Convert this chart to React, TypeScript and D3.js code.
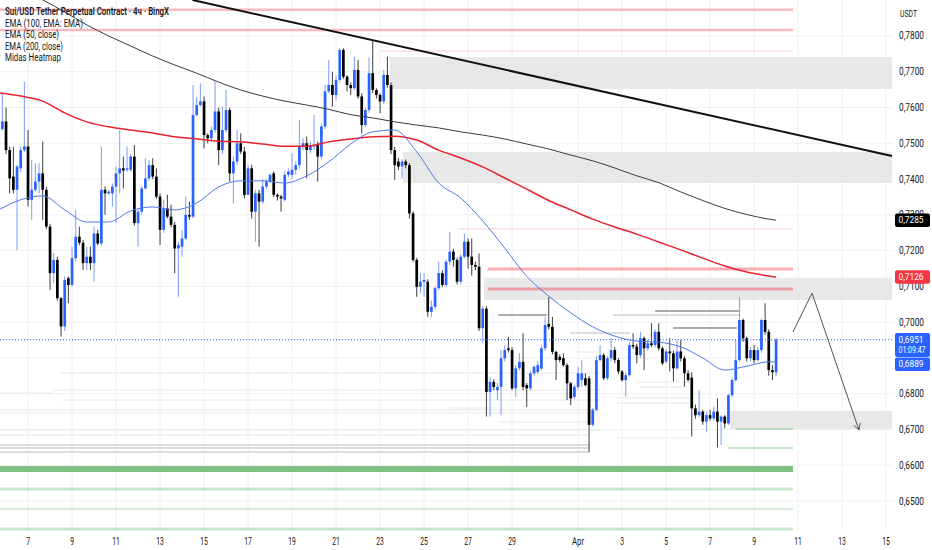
import React, { useEffect, useRef } from 'react';
import * as d3 from 'd3';

// 4h candles, the first one opens 2025-03-05 16:00 UTC
const opens = [
  0.7510, 0.7540, 0.7561, 0.7481, 0.7407, 0.7370, 0.7430, 0.7481, 0.7491, 0.7342,
  0.7370, 0.7393, 0.7416, 0.7370, 0.7267, 0.7137, 0.7174, 0.7067, 0.6988, 0.7123,
  0.7104, 0.7179, 0.7239, 0.7222, 0.7165, 0.7183, 0.7165, 0.7248, 0.7220, 0.7370,
  0.7360, 0.7360, 0.7379, 0.7416, 0.7430, 0.7426, 0.7426, 0.7463, 0.7277, 0.7309,
  0.7374, 0.7402, 0.7439, 0.7407, 0.7351, 0.7258, 0.7318, 0.7295, 0.7272, 0.7206,
  0.7211, 0.7234, 0.7300, 0.7295, 0.7579, 0.7607, 0.7617, 0.7523, 0.7514, 0.7537,
  0.7589, 0.7481, 0.7537, 0.7593, 0.7416, 0.7449, 0.7500, 0.7477, 0.7356, 0.7430,
  0.7309, 0.7360, 0.7337, 0.7379, 0.7393, 0.7416, 0.7356, 0.7351, 0.7342, 0.7412,
  0.7412, 0.7426, 0.7439, 0.7491, 0.7500, 0.7481, 0.7491, 0.7495, 0.7463, 0.7547,
  0.7645, 0.7663, 0.7635, 0.7677, 0.7761, 0.7686, 0.7663, 0.7654, 0.7705, 0.7631,
  0.7551, 0.7593, 0.7696, 0.7649, 0.7635, 0.7617, 0.7691, 0.7663, 0.7481, 0.7449,
  0.7435, 0.7449, 0.7439, 0.7304, 0.7174, 0.7099, 0.7113, 0.7113, 0.7029, 0.7043,
  0.7095, 0.7137, 0.7104, 0.7169, 0.7197, 0.7174, 0.7113, 0.7183, 0.7225, 0.7183,
  0.7160, 0.7155, 0.6983, 0.7038, 0.6805, 0.6833, 0.6810, 0.6819, 0.6899, 0.6927,
  0.6922, 0.6815, 0.6871, 0.6889, 0.6824, 0.6815, 0.6857, 0.6861, 0.6870, 0.6927,
  0.6995, 0.6987, 0.6917, 0.6903, 0.6899, 0.6880, 0.6829, 0.6791, 0.6819, 0.6838,
  0.6843, 0.6843, 0.6713, 0.6755, 0.6894, 0.6908, 0.6843, 0.6899, 0.6922, 0.6894,
  0.6862, 0.6838, 0.6852, 0.6936, 0.6932, 0.6908, 0.6955, 0.6927, 0.6941, 0.6936,
  0.6973, 0.6927, 0.6890, 0.6918, 0.6913, 0.6871, 0.6918, 0.6899, 0.6857, 0.6845,
  0.6759, 0.6740, 0.6750, 0.6722, 0.6740, 0.6731, 0.6750, 0.6722, 0.6736, 0.6717,
  0.6796, 0.6838, 0.6894, 0.7006, 0.6955, 0.6899, 0.6922, 0.6894, 0.6922, 0.7006,
  0.6973, 0.6866, 0.6860,
];
const highs = [
  0.7560, 0.7640, 0.7600, 0.7490, 0.7490, 0.7440, 0.7491, 0.7672, 0.7537, 0.7453,
  0.7444, 0.7444, 0.7505, 0.7379, 0.7275, 0.7193, 0.7183, 0.7070, 0.7128, 0.7128,
  0.7211, 0.7314, 0.7267, 0.7230, 0.7211, 0.7211, 0.7267, 0.7258, 0.7491, 0.7379,
  0.7370, 0.7388, 0.7435, 0.7537, 0.7463, 0.7491, 0.7470, 0.7495, 0.7315, 0.7380,
  0.7458, 0.7453, 0.7458, 0.7430, 0.7360, 0.7342, 0.7356, 0.7328, 0.7280, 0.7225,
  0.7258, 0.7351, 0.7337, 0.7663, 0.7630, 0.7668, 0.7631, 0.7528, 0.7547, 0.7673,
  0.7600, 0.7603, 0.7649, 0.7600, 0.7463, 0.7537, 0.7528, 0.7490, 0.7440, 0.7440,
  0.7370, 0.7370, 0.7400, 0.7400, 0.7416, 0.7421, 0.7360, 0.7356, 0.7421, 0.7430,
  0.7472, 0.7449, 0.7565, 0.7514, 0.7519, 0.7505, 0.7579, 0.7505, 0.7555, 0.7663,
  0.7733, 0.7700, 0.7690, 0.7766, 0.7766, 0.7691, 0.7670, 0.7742, 0.7733, 0.7640,
  0.7600, 0.7740, 0.7786, 0.7654, 0.7640, 0.7705, 0.7742, 0.7670, 0.7490, 0.7460,
  0.7455, 0.7455, 0.7445, 0.7310, 0.7180, 0.7137, 0.7137, 0.7120, 0.7060, 0.7100,
  0.7169, 0.7145, 0.7175, 0.7253, 0.7205, 0.7180, 0.7190, 0.7248, 0.7234, 0.7234,
  0.7169, 0.7192, 0.7045, 0.7045, 0.6847, 0.6840, 0.6830, 0.6922, 0.6935, 0.6959,
  0.6930, 0.6880, 0.6913, 0.6969, 0.6830, 0.6865, 0.6880, 0.6890, 0.6935, 0.7015,
  0.7070, 0.7015, 0.6920, 0.6910, 0.6913, 0.6885, 0.6833, 0.6825, 0.6875, 0.6894,
  0.6857, 0.6850, 0.6760, 0.6905, 0.6936, 0.6913, 0.6905, 0.6955, 0.6930, 0.6900,
  0.6866, 0.6860, 0.6945, 0.6969, 0.6940, 0.6973, 0.6960, 0.6950, 0.6997, 0.6980,
  0.6997, 0.6932, 0.6925, 0.6955, 0.6920, 0.6950, 0.6950, 0.6905, 0.6866, 0.6860,
  0.6770, 0.6810, 0.6755, 0.6750, 0.6755, 0.6764, 0.6787, 0.6740, 0.6740, 0.6800,
  0.6845, 0.6950, 0.7071, 0.7010, 0.6960, 0.6930, 0.6936, 0.6930, 0.7010, 0.7053,
  0.6980, 0.6880, 0.6955,
];
const lows = [
  0.7500, 0.7535, 0.7470, 0.7360, 0.7360, 0.7202, 0.7420, 0.7475, 0.7323, 0.7286,
  0.7365, 0.7360, 0.7286, 0.7260, 0.7090, 0.7109, 0.7060, 0.6960, 0.6975, 0.7053,
  0.7100, 0.7170, 0.7215, 0.7146, 0.7146, 0.7146, 0.7113, 0.7215, 0.7215, 0.7300,
  0.7355, 0.7323, 0.7277, 0.7360, 0.7374, 0.7420, 0.7420, 0.7270, 0.7211, 0.7300,
  0.7370, 0.7395, 0.7400, 0.7345, 0.7216, 0.7250, 0.7290, 0.7265, 0.7137, 0.7071,
  0.7183, 0.7230, 0.7286, 0.7290, 0.7575, 0.7603, 0.7486, 0.7500, 0.7505, 0.7530,
  0.7439, 0.7470, 0.7530, 0.7393, 0.7332, 0.7440, 0.7470, 0.7346, 0.7356, 0.7290,
  0.7225, 0.7211, 0.7330, 0.7372, 0.7388, 0.7350, 0.7340, 0.7309, 0.7337, 0.7405,
  0.7400, 0.7412, 0.7430, 0.7481, 0.7402, 0.7472, 0.7481, 0.7393, 0.7455, 0.7540,
  0.7640, 0.7603, 0.7620, 0.7670, 0.7680, 0.7645, 0.7635, 0.7649, 0.7625, 0.7528,
  0.7545, 0.7585, 0.7640, 0.7625, 0.7584, 0.7610, 0.7655, 0.7470, 0.7398, 0.7425,
  0.7402, 0.7430, 0.7290, 0.7168, 0.7071, 0.7080, 0.7071, 0.7015, 0.7015, 0.7035,
  0.7090, 0.7098, 0.7098, 0.7160, 0.7155, 0.7105, 0.7105, 0.7178, 0.7150, 0.7130,
  0.7145, 0.6975, 0.6941, 0.6736, 0.6736, 0.6810, 0.6782, 0.6740, 0.6890, 0.6915,
  0.6810, 0.6791, 0.6865, 0.6810, 0.6763, 0.6810, 0.6850, 0.6855, 0.6865, 0.6920,
  0.6980, 0.6910, 0.6838, 0.6888, 0.6875, 0.6782, 0.6768, 0.6785, 0.6812, 0.6819,
  0.6820, 0.6637, 0.6708, 0.6750, 0.6890, 0.6838, 0.6838, 0.6890, 0.6885, 0.6855,
  0.6834, 0.6792, 0.6848, 0.6925, 0.6885, 0.6900, 0.6866, 0.6920, 0.6930, 0.6930,
  0.6920, 0.6880, 0.6885, 0.6862, 0.6834, 0.6866, 0.6890, 0.6820, 0.6834, 0.6680,
  0.6730, 0.6735, 0.6713, 0.6694, 0.6725, 0.6725, 0.6650, 0.6657, 0.6703, 0.6712,
  0.6790, 0.6834, 0.6890, 0.6945, 0.6890, 0.6890, 0.6885, 0.6890, 0.6915, 0.6965,
  0.6850, 0.6838, 0.6850,
];
const closes = [
  0.7540, 0.7561, 0.7481, 0.7402, 0.7370, 0.7435, 0.7481, 0.7491, 0.7342, 0.7370,
  0.7393, 0.7416, 0.7370, 0.7267, 0.7137, 0.7174, 0.7067, 0.6988, 0.7118, 0.7104,
  0.7179, 0.7239, 0.7222, 0.7165, 0.7183, 0.7165, 0.7248, 0.7220, 0.7370, 0.7360,
  0.7365, 0.7379, 0.7416, 0.7430, 0.7424, 0.7430, 0.7463, 0.7277, 0.7309, 0.7374,
  0.7402, 0.7439, 0.7407, 0.7351, 0.7258, 0.7318, 0.7295, 0.7272, 0.7206, 0.7216,
  0.7234, 0.7300, 0.7295, 0.7579, 0.7607, 0.7617, 0.7523, 0.7514, 0.7537, 0.7589,
  0.7481, 0.7537, 0.7593, 0.7416, 0.7449, 0.7500, 0.7477, 0.7356, 0.7430, 0.7309,
  0.7360, 0.7337, 0.7379, 0.7393, 0.7412, 0.7356, 0.7351, 0.7346, 0.7412, 0.7421,
  0.7426, 0.7439, 0.7491, 0.7500, 0.7481, 0.7495, 0.7495, 0.7463, 0.7547, 0.7645,
  0.7663, 0.7635, 0.7677, 0.7761, 0.7686, 0.7663, 0.7654, 0.7705, 0.7631, 0.7551,
  0.7593, 0.7696, 0.7649, 0.7635, 0.7617, 0.7691, 0.7663, 0.7481, 0.7439, 0.7435,
  0.7449, 0.7439, 0.7304, 0.7174, 0.7099, 0.7113, 0.7118, 0.7029, 0.7043, 0.7095,
  0.7137, 0.7104, 0.7169, 0.7197, 0.7174, 0.7113, 0.7183, 0.7225, 0.7183, 0.7160,
  0.7155, 0.6983, 0.7038, 0.6805, 0.6833, 0.6819, 0.6819, 0.6899, 0.6922, 0.6922,
  0.6815, 0.6871, 0.6889, 0.6819, 0.6815, 0.6857, 0.6875, 0.6880, 0.6927, 0.6992,
  0.6987, 0.6917, 0.6894, 0.6894, 0.6880, 0.6829, 0.6787, 0.6819, 0.6857, 0.6857,
  0.6824, 0.6713, 0.6755, 0.6894, 0.6908, 0.6843, 0.6899, 0.6922, 0.6894, 0.6862,
  0.6838, 0.6852, 0.6936, 0.6932, 0.6908, 0.6955, 0.6927, 0.6941, 0.6936, 0.6973,
  0.6927, 0.6885, 0.6918, 0.6913, 0.6871, 0.6918, 0.6899, 0.6857, 0.6838, 0.6759,
  0.6740, 0.6750, 0.6722, 0.6740, 0.6731, 0.6750, 0.6722, 0.6736, 0.6717, 0.6796,
  0.6838, 0.6894, 0.7006, 0.6955, 0.6899, 0.6922, 0.6894, 0.6922, 0.7006, 0.6973,
  0.6866, 0.6860, 0.6951,
];

const emaIndex = [
  0, 6, 12, 18, 24, 30, 36, 42, 48, 54, 60, 66, 72, 78, 84, 90, 96, 102, 108,
  114, 120, 126, 132, 138, 144, 150, 156, 162, 168, 174, 180, 186, 192, 198, 204, 210, 212,
];
const ema50 = [
  0.7314, 0.7342, 0.7353, 0.7314, 0.7280, 0.7280, 0.7311, 0.7322, 0.7314, 0.7333,
  0.7378, 0.7395, 0.7395, 0.7389, 0.7409, 0.7448, 0.7498, 0.7532, 0.7537, 0.7476,
  0.7389, 0.7347, 0.7283, 0.7207, 0.7128, 0.7073, 0.7026, 0.6987, 0.6961, 0.6947,
  0.6944, 0.6931, 0.6900, 0.6866, 0.6877, 0.6889, 0.6889,
];
const ema100 = [
  0.7962, 0.7928, 0.7901, 0.7867, 0.7831, 0.7800, 0.7772, 0.7744, 0.7719, 0.7696,
  0.7671, 0.7649, 0.7632, 0.7618, 0.7607, 0.7595, 0.7580, 0.7571, 0.7560, 0.7551,
  0.7543, 0.7532, 0.7523, 0.7512, 0.7498, 0.7484, 0.7467, 0.7451, 0.7431, 0.7409,
  0.7390, 0.7364, 0.7340, 0.7318, 0.7301, 0.7288, 0.7285,
];
const ema200 = [
  0.7641, 0.7632, 0.7618, 0.7585, 0.7560, 0.7546, 0.7537, 0.7529, 0.7518, 0.7512,
  0.7506, 0.7504, 0.7498, 0.7492, 0.7492, 0.7504, 0.7512, 0.7518, 0.7520, 0.7509,
  0.7481, 0.7459, 0.7434, 0.7403, 0.7372, 0.7340, 0.7314, 0.7288, 0.7266, 0.7246,
  0.7224, 0.7202, 0.7179, 0.7157, 0.7140, 0.7129, 0.7126,
];

const priceTicks = [0.78, 0.77, 0.76, 0.75, 0.74, 0.73, 0.72, 0.71, 0.70, 0.69, 0.68, 0.67, 0.66, 0.65];
// 0,6900 sits under the last-price tags, so no label for it
const priceLabels = [0.78, 0.77, 0.76, 0.75, 0.74, 0.73, 0.72, 0.71, 0.70, 0.68, 0.67, 0.66, 0.65];
const dateTicks = [
  '2025-03-07', '2025-03-09', '2025-03-11', '2025-03-13', '2025-03-15', '2025-03-17', '2025-03-19',
  '2025-03-21', '2025-03-23', '2025-03-25', '2025-03-27', '2025-03-29', '2025-04-01', '2025-04-03',
  '2025-04-05', '2025-04-07', '2025-04-09', '2025-04-11', '2025-04-13', '2025-04-15',
];
const dateLabels = ['7', '9', '11', '13', '15', '17', '19', '21', '23', '25', '27', '29', 'Apr', '3', '5', '7', '9', '11', '13', '15'];

const legendLines = [
  'Sui/USD Tether Perpetual Contract · 4ч · BingX',
  'EMA (100, EMA: EMA)',
  'EMA (50, close)',
  'EMA (200, close)',
  'Midas Heatmap',
];

// supply / demand boxes: top price, bottom price, first candle index (run to the right edge)
const zoneTop = [0.7741, 0.7476, 0.7124, 0.6752];
const zoneBottom = [0.7652, 0.7389, 0.7062, 0.6701];
const zoneFrom = [106.7, 110.3, 132.3, 199.4];

// heatmap levels: price, from candle, to candle, kind
const levels = [
  { price: 0.78735, from: 0, to: 216.6, kind: 'pink' },
  { price: 0.78168, from: 0, to: 216.6, kind: 'pink' },
  { price: 0.77581, from: 104.3, to: 216.6, kind: 'pinkThin' },
  { price: 0.72604, from: 125.2, to: 216.6, kind: 'pinkThin' },
  { price: 0.71486, from: 133.4, to: 216.6, kind: 'red' },
  { price: 0.70927, from: 133.4, to: 216.6, kind: 'red' },
  { price: 0.67013, from: 201.0, to: 216.6, kind: 'greenThin' },
  { price: 0.66482, from: 198.9, to: 216.6, kind: 'greenThin' },
  { price: 0.65895, from: 0, to: 216.6, kind: 'greenThick' },
  { price: 0.65336, from: 0, to: 216.6, kind: 'greenMid' },
  { price: 0.64777, from: 0, to: 216.6, kind: 'greenLight' },
  { price: 0.64218, from: 0, to: 216.6, kind: 'greenMid' },
];

// faint volume-profile lines of the heatmap: price, from candle, to candle, shade 1..3
const heatPrice = [
  0.68578, 0.68103, 0.68019, 0.67824, 0.67544, 0.67461, 0.67209, 0.66985, 0.66846,
  0.66566, 0.66483, 0.66371, 0.70703, 0.70200, 0.70312, 0.70200, 0.69837, 0.69697,
  0.69166, 0.68327, 0.68187, 0.67880, 0.67740, 0.66762, 0.67600,
];
const heatFrom = [
  16.7, 14.8, 0, 17.5, 0, 0, 136.7, 0, 0, 0, 0, 0, 138.1, 136.2, 179.0, 167.5, 183.9, 155.8,
  157.2, 174.1, 174.9, 168.6, 168.6, 168.6, 123.0,
];
const heatTo = [
  164, 164, 14.8, 164, 164, 164, 161.2, 164, 161.2, 161.2, 161.2, 161.2, 149.5, 149.5, 202.2,
  202.2, 201.3, 172.2, 164, 188.5, 188.5, 188.5, 188.5, 188.5, 134.8,
];
const heatShade = [1, 1, 1, 1, 1, 1, 1, 1, 1, 2, 2, 2, 3, 3, 3, 2, 3, 2, 1, 1, 1, 1, 1, 1, 1];

// hand drawn trend line and projection arrow: [candle index, price]
const trendLine = [[52.85, 0.79006], [243.6, 0.74645]];
const projection = [[216.6, 0.69725], [221.8, 0.70815], [234.6, 0.66985]];

const lastPrice = 0.6951;
const countdown = '01:09:47';

const W = 932;
const H = 550;
const PLOT_W = 893;
const PLOT_H = 531;
const FONT = "Roboto, 'Liberation Sans', Arial, sans-serif";

const levelStyle: Record<string, { color: string; width: number }> = {
  pink: { color: 'rgba(242,54,69,0.35)', width: 2.6 },
  pinkThin: { color: 'rgba(242,54,69,0.25)', width: 1.2 },
  red: { color: 'rgba(240,60,72,0.42)', width: 3.2 },
  greenThin: { color: 'rgba(76,175,80,0.4)', width: 1.4 },
  greenThick: { color: '#80c285', width: 6 },
  greenMid: { color: 'rgba(76,175,80,0.3)', width: 3 },
  greenLight: { color: 'rgba(76,175,80,0.22)', width: 2 },
};
const shadeColor = ['', '#e8e8e8', '#d2d2d2', '#5a5a5a'];

const App = () => {
  const svgRef = useRef<SVGSVGElement | null>(null);

  useEffect(() => {
    document.body.style.margin = '0';
    drawChart();
    return () => {
      d3.select(svgRef.current).selectAll('*').remove();
    };
  }, []);

  const drawChart = () => {
    const svg = d3.select(svgRef.current);
    svg.selectAll('*').remove();

    const T0 = Date.UTC(2025, 2, 5, 16);
    const H4 = 4 * 3600 * 1000;
    const at = (i: number) => new Date(T0 + i * H4);

    const x = d3.scaleUtc().domain([at(0.3545), at(243.88)]).range([0, PLOT_W]);
    const y = d3.scaleLinear().domain([0.64162, 0.79006]).range([PLOT_H, 0]);
    const xi = (i: number) => x(at(i));
    const parseDay = d3.utcParse('%Y-%m-%d');
    const fmt = (v: number) => d3.format('.4f')(v).replace('.', ',');

    svg.append('rect').attr('width', W).attr('height', H).attr('fill', '#fff');

    svg.append('defs').append('clipPath').attr('id', 'plot-clip')
      .append('rect').attr('width', PLOT_W).attr('height', PLOT_H);

    const plot = svg.append('g').attr('clip-path', 'url(#plot-clip)');

    // grid
    plot.selectAll('.vgrid').data(dateTicks).enter().append('line')
      .attr('x1', d => x(parseDay(d)!)).attr('x2', d => x(parseDay(d)!))
      .attr('y1', 0).attr('y2', PLOT_H)
      .attr('stroke', '#f0f1f4').attr('stroke-width', 1);
    plot.selectAll('.hgrid').data(priceTicks).enter().append('line')
      .attr('x1', 0).attr('x2', PLOT_W)
      .attr('y1', d => y(d)).attr('y2', d => y(d))
      .attr('stroke', '#f0f1f4').attr('stroke-width', 1);

    // heatmap lines
    plot.selectAll('.heat').data(heatPrice).enter().append('line')
      .attr('x1', (d, i) => xi(heatFrom[i])).attr('x2', (d, i) => xi(heatTo[i]))
      .attr('y1', d => y(d)).attr('y2', d => y(d))
      .attr('stroke', (d, i) => shadeColor[heatShade[i]])
      .attr('stroke-width', (d, i) => (heatShade[i] === 2 ? 1.6 : 1));

    // gray zones
    plot.selectAll('.zone').data(zoneTop).enter().append('rect')
      .attr('x', (d, i) => xi(zoneFrom[i]))
      .attr('width', (d, i) => PLOT_W - 1 - xi(zoneFrom[i]))
      .attr('y', d => y(d))
      .attr('height', (d, i) => y(zoneBottom[i]) - y(d))
      .attr('fill', '#e8e8e8');

    // level lines
    plot.selectAll('.level').data(levels).enter().append('line')
      .attr('x1', d => xi(d.from)).attr('x2', d => xi(d.to))
      .attr('y1', d => y(d.price)).attr('y2', d => y(d.price))
      .attr('stroke', d => levelStyle[d.kind].color)
      .attr('stroke-width', d => levelStyle[d.kind].width);

    // candles
    const idx = d3.range(opens.length);
    const up = (i: number) => closes[i] >= opens[i];
    const candle = plot.selectAll('.candle').data(idx).enter().append('g');
    candle.append('line')
      .attr('x1', i => xi(i)).attr('x2', i => xi(i))
      .attr('y1', i => y(highs[i])).attr('y2', i => y(lows[i]))
      .attr('stroke', i => (up(i) ? '#7d9cf6' : '#3c3c3c'))
      .attr('stroke-width', 1);
    candle.append('rect')
      .attr('x', i => xi(i) - 1.35).attr('width', 2.7)
      .attr('y', i => y(Math.max(opens[i], closes[i])))
      .attr('height', i => Math.max(1, Math.abs(y(opens[i]) - y(closes[i]))))
      .attr('fill', i => (up(i) ? '#2962ff' : '#000'));

    // EMAs
    const emaLine = d3.line<number>()
      .x((d, i) => xi(emaIndex[i]))
      .y(d => y(d))
      .curve(d3.curveMonotoneX);
    plot.append('path').attr('d', emaLine(ema200)).attr('fill', 'none')
      .attr('stroke', '#e5222e').attr('stroke-width', 1.5);
    plot.append('path').attr('d', emaLine(ema100)).attr('fill', 'none')
      .attr('stroke', '#3a3a3a').attr('stroke-width', 1);
    plot.append('path').attr('d', emaLine(ema50)).attr('fill', 'none')
      .attr('stroke', '#4f78ec').attr('stroke-width', 1);

    // trend line
    plot.append('line')
      .attr('x1', xi(trendLine[0][0])).attr('y1', y(trendLine[0][1]))
      .attr('x2', xi(trendLine[1][0])).attr('y2', y(trendLine[1][1]))
      .attr('stroke', '#111').attr('stroke-width', 2);

    // last price dotted line
    plot.append('line')
      .attr('x1', 0).attr('x2', PLOT_W)
      .attr('y1', y(lastPrice)).attr('y2', y(lastPrice))
      .attr('stroke', '#2962ff').attr('stroke-width', 1).attr('stroke-dasharray', '1,2');

    // projection arrow
    const pts = projection.map(([i, p]) => [xi(i), y(p)] as [number, number]);
    plot.append('path').attr('d', d3.line()(pts)).attr('fill', 'none')
      .attr('stroke', '#555').attr('stroke-width', 1);
    const [ax, ay] = pts[pts.length - 1];
    const [bx, by] = pts[pts.length - 2];
    const ang = Math.atan2(ay - by, ax - bx);
    const head = [ang + Math.PI - 0.5, ang + Math.PI + 0.5].map(a => [ax + 7 * Math.cos(a), ay + 7 * Math.sin(a)]);
    plot.append('path')
      .attr('d', `M${head[0][0]},${head[0][1]}L${ax},${ay}L${head[1][0]},${head[1][1]}`)
      .attr('fill', 'none').attr('stroke', '#555').attr('stroke-width', 1);

    // legend
    const legendWidths = [164, 78, 54, 58, 56];
    svg.selectAll('.legend').data(legendLines).enter().append('text')
      .attr('x', 5).attr('y', (d, i) => 15 + i * 11.5)
      .attr('font-family', FONT).attr('font-size', 10)
      .attr('font-weight', (d, i) => (i === 0 ? 600 : 400))
      .attr('fill', '#131722')
      .attr('textLength', (d, i) => legendWidths[i]).attr('lengthAdjust', 'spacingAndGlyphs')
      .text(d => d);

    // price axis
    svg.append('text').attr('x', 900).attr('y', 17)
      .attr('font-family', FONT).attr('font-size', 9.5).attr('fill', '#131722')
      .attr('textLength', 17).attr('lengthAdjust', 'spacingAndGlyphs').text('USDT');
    svg.selectAll('.ptick').data(priceLabels).enter().append('text')
      .attr('x', 899).attr('y', d => y(d) + 3.5)
      .attr('font-family', FONT).attr('font-size', 10).attr('fill', '#131722')
      .attr('textLength', 25).attr('lengthAdjust', 'spacingAndGlyphs')
      .text(d => fmt(d));

    // date axis
    svg.selectAll('.dtick').data(dateTicks).enter().append('text')
      .attr('x', d => x(parseDay(d)!)).attr('y', 545)
      .attr('text-anchor', 'middle')
      .attr('font-family', FONT).attr('font-size', 10).attr('fill', '#131722')
      .attr('textLength', (d, i) => (dateLabels[i] === 'Apr' ? 12 : dateLabels[i].length * 3.8))
      .attr('lengthAdjust', 'spacingAndGlyphs')
      .text((d, i) => dateLabels[i]);

    // value tags on the price scale
    const tag = (top: number, color: string, lines: string[], widths: number[]) => {
      const h = lines.length === 1 ? 13.5 : 24;
      svg.append('rect').attr('x', 895).attr('y', top).attr('width', 35).attr('height', h)
        .attr('rx', 2).attr('fill', color);
      lines.forEach((t, k) => {
        svg.append('text').attr('x', 898.5).attr('y', top + 10 + k * 10)
          .attr('font-family', FONT).attr('font-size', 9.5).attr('fill', '#fff')
          .attr('textLength', widths[k]).attr('lengthAdjust', 'spacingAndGlyphs')
          .text(t);
      });
      return top + h;
    };
    const e100 = ema100[ema100.length - 1];
    const e200 = ema200[ema200.length - 1];
    const e50 = ema50[ema50.length - 1];
    tag(y(e100) - 6.75, '#000', [fmt(e100)], [25]);
    tag(y(e200) - 6.75, '#f23645', [fmt(e200)], [25]);
    const below = tag(y(lastPrice) - 6.75, '#2962ff', [fmt(lastPrice), countdown], [25, 27]);
    tag(Math.max(below + 0.5, y(e50) - 6.75), '#2962ff', [fmt(e50)], [25]);
  };

  return (
    <div>
      <svg ref={svgRef} width={W} height={H} style={{ display: 'block' }} />
    </div>
  );
};

export default App;
